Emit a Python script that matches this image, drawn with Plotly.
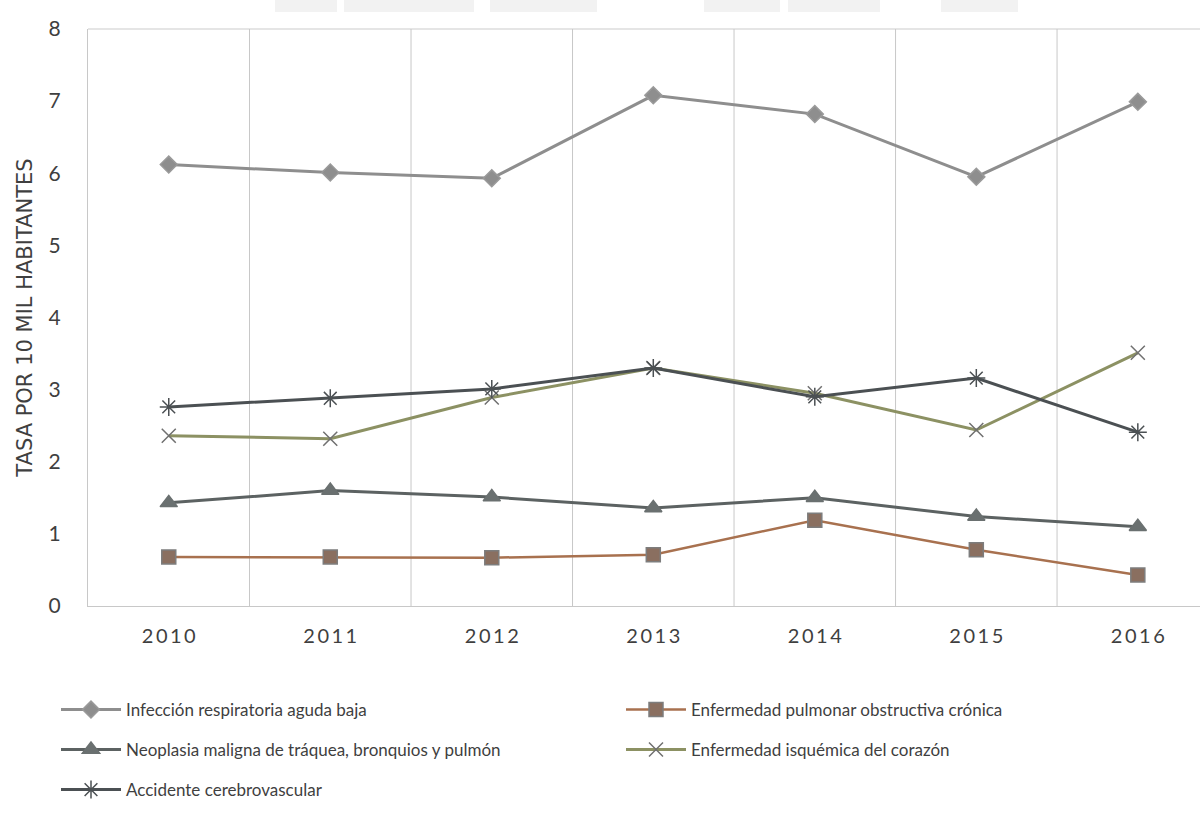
import plotly.graph_objects as go

years = ["2010", "2011", "2012", "2013", "2014", "2015", "2016"]

infeccion = [6.12, 6.01, 5.93, 7.08, 6.82, 5.95, 6.99]
epoc = [0.68, 0.68, 0.67, 0.71, 1.19, 0.78, 0.43]
neoplasia = [1.43, 1.60, 1.51, 1.36, 1.50, 1.24, 1.10]
isquemica = [2.36, 2.32, 2.89, 3.30, 2.95, 2.44, 3.51]
cerebro = [2.76, 2.88, 3.01, 3.30, 2.90, 3.16, 2.41]

names = [
    "Infección respiratoria aguda baja",
    "Enfermedad pulmonar obstructiva crónica",
    "Neoplasia maligna de tráquea, bronquios y pulmón",
    "Enfermedad isquémica del corazón",
    "Accidente cerebrovascular",
]

x = list(range(len(years)))
FONT = "Lato, 'Open Sans', sans-serif"
TXT = "#3f3f3f"

fig = go.Figure()

def add(name, y, line_color, symbol, msize, mcolor, mline, legend, lw=3):
    fig.add_trace(go.Scatter(
        x=x, y=y, name=name, mode="lines+markers",
        line=dict(color=line_color, width=lw),
        marker=dict(symbol=symbol, size=msize, color=mcolor,
                    line=dict(color=mline, width=1.5)),
        legend=legend,
    ))

add(names[0], infeccion, "#8e8e8e", "diamond", 13, "#8e8e8e", "#9a9a9a", "legend")
add(names[1], epoc, "#a8714f", "square", 14, "#8a6f60", "#7d7d7d", "legend", lw=2.5)
add(names[2], neoplasia, "#5c6262", "triangle-up", 15, "#6a7070", "#6a7070", "legend2")
add(names[3], isquemica, "#8c9163", "x-thin-open", 14, "#707070", "#707070", "legend2")
add(names[4], cerebro, "#4b5053", "asterisk-open", 15, "#4b5053", "#4b5053", "legend3")

# vertical separators between categories
for b in range(len(years)):
    fig.add_shape(type="line", xref="x", yref="y", x0=b + 0.5, x1=b + 0.5,
                  y0=0, y1=8, line=dict(color="#c8c8c8", width=1), layer="below")

# faint mark along the top edge
for a, b in [(275, 337), (344, 474), (490, 597), (704, 780), (788, 880), (941, 1018)]:
    fig.add_shape(type="rect", xref="paper", yref="paper",
                  x0=(a - 88) / 1112, x1=(b - 88) / 1112,
                  y0=1 + 17 / 577, y1=1 + 29 / 577,
                  fillcolor="#f2f2f2", line=dict(width=0), layer="below")

sp = "\u2009"
legend_common = dict(orientation="h", xanchor="left", yanchor="middle",
                     font=dict(family=FONT, size=17, color=TXT),
                     bgcolor="rgba(0,0,0,0)", entrywidth=490, entrywidthmode="pixels",
                     itemwidth=60)
lx = (56 - 88) / 1112

fig.update_layout(
    width=1200, height=814,
    margin=dict(l=88, r=0, t=29, b=208),
    paper_bgcolor="white", plot_bgcolor="white",
    font=dict(family=FONT, color=TXT),
    showlegend=True,
    xaxis=dict(
        range=[-0.5, 6.385], tickmode="array", tickvals=x,
        ticktext=[sp.join(list(t)) for t in years],
        showgrid=False, zeroline=False, showline=True, linecolor="#c8c8c8",
        ticks="", tickfont=dict(family=FONT, size=20, color=TXT),
        ticklabelstandoff=12,
    ),
    yaxis=dict(
        range=[0, 8], dtick=1, showgrid=False, zeroline=False,
        showline=True, linecolor="#c8c8c8", ticks="",
        tickfont=dict(family=FONT, size=21, color=TXT),
        ticklabelstandoff=22,
        title=dict(text="TASA POR 10 MIL HABITANTES",
                   font=dict(family="DejaVu Sans, sans-serif", size=21, color=TXT),
                   standoff=10),
    ),
    legend=dict(x=lx, y=-(710 - 606) / 577, **legend_common),
    legend2=dict(x=lx, y=-(750 - 606) / 577, **legend_common),
    legend3=dict(x=lx, y=-(790 - 606) / 577, **legend_common),
)

# thin frame line along the top of the plot area
fig.add_shape(type="line", xref="paper", yref="paper", x0=0, x1=1, y0=1, y1=1,
              line=dict(color="#dcdcdc", width=1.5), layer="below")

fig.write_html("out.html")
